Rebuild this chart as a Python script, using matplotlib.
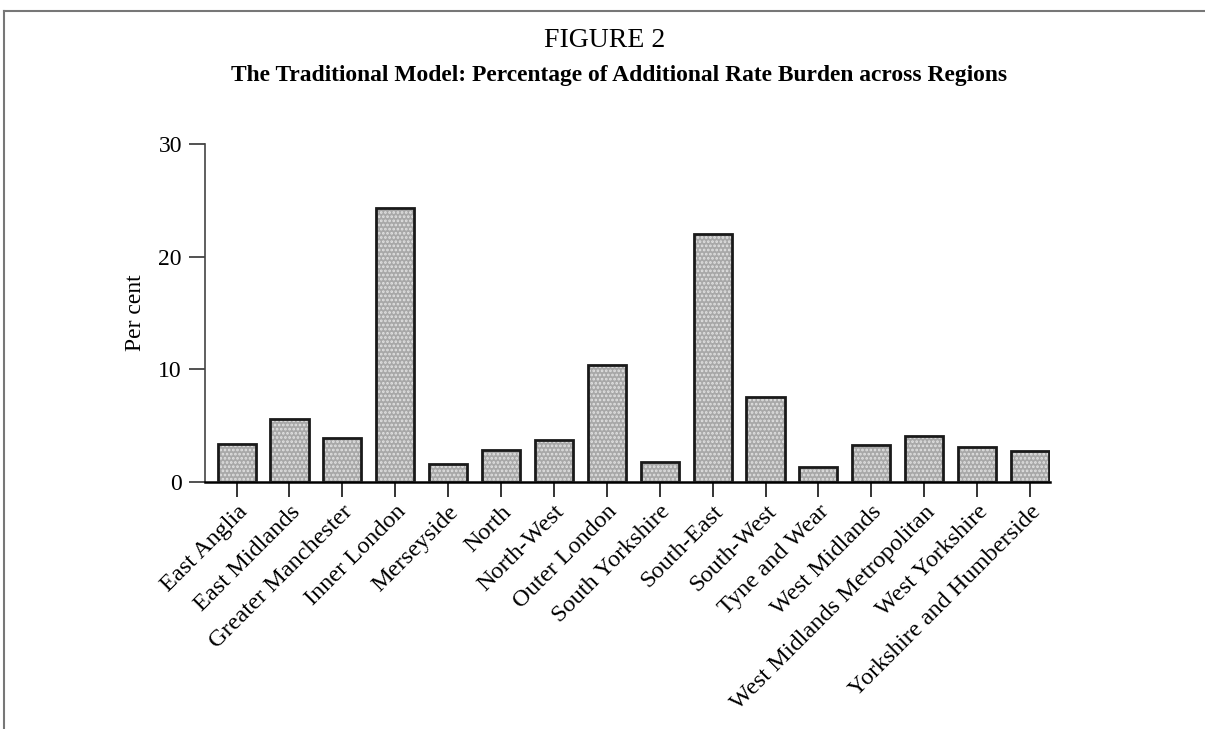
import matplotlib
matplotlib.use("Agg")
import matplotlib.pyplot as plt
from matplotlib.lines import Line2D

regions = ["East Anglia", "East Midlands", "Greater Manchester", "Inner London",
           "Merseyside", "North", "North-West", "Outer London", "South Yorkshire",
           "South-East", "South-West", "Tyne and Wear", "West Midlands",
           "West Midlands Metropolitan", "West Yorkshire", "Yorkshire and Humberside"]
percent = [3.4, 5.6, 3.9, 24.3, 1.6, 2.8, 3.7, 10.4, 1.8,
           22.0, 7.5, 1.3, 3.3, 4.1, 3.1, 2.7]
yticks = [0, 10, 20, 30]

plt.rcParams['font.family'] = ['Liberation Serif', 'DejaVu Serif']
plt.rcParams['hatch.linewidth'] = 1.3

fig = plt.figure(figsize=(12.05, 7.29), dpi=100)
ax = fig.add_axes([0.170, 0.339, 0.701, 0.4635])

x = list(range(len(regions)))
# stippled fill
ax.bar(x, percent, width=0.72, color='#a8a8a8', edgecolor='#e2e2e2',
       hatch='....', linewidth=0, zorder=2)
# outline
ax.bar(x, percent, width=0.72, fill=False, edgecolor='#1a1a1a',
       linewidth=2.0, zorder=3)

ax.set_xlim(-0.6, 15.37)
ax.set_ylim(0, 30)
ax.set_yticks(yticks)
ax.set_yticklabels([str(v) for v in yticks], fontsize=17)
ax.set_xticks(x)
ax.set_xticklabels(regions, rotation=45, ha='right', rotation_mode='anchor',
                   fontsize=17.5)
ax.tick_params(axis='y', direction='out', length=11.5, width=1.2, pad=5,
               color='#333333')
ax.tick_params(axis='x', direction='out', length=11, width=1.4, pad=3,
               color='#333333')
for s in ['top', 'right']:
    ax.spines[s].set_visible(False)
ax.spines['left'].set_linewidth(1.2)
ax.spines['bottom'].set_linewidth(1.8)
ax.spines['left'].set_color('#444444')
ax.set_ylabel('Per cent', fontsize=17, labelpad=9)

fig.text(0.502, 0.945, 'FIGURE 2', ha='center', va='center', fontsize=20)
fig.text(0.514, 0.897, 'The Traditional Model: Percentage of Additional Rate Burden across Regions',
         ha='center', va='center', fontsize=16.9, fontweight='bold')

# page frame (top and left edges)
fig.add_artist(Line2D([0.003, 1.0], [0.985, 0.985], color='#777777', lw=1.5,
                      transform=fig.transFigure))
fig.add_artist(Line2D([0.003, 0.003], [0.0, 0.985], color='#777777', lw=1.5,
                      transform=fig.transFigure))

fig.savefig('out.png', dpi=100, facecolor='white')
